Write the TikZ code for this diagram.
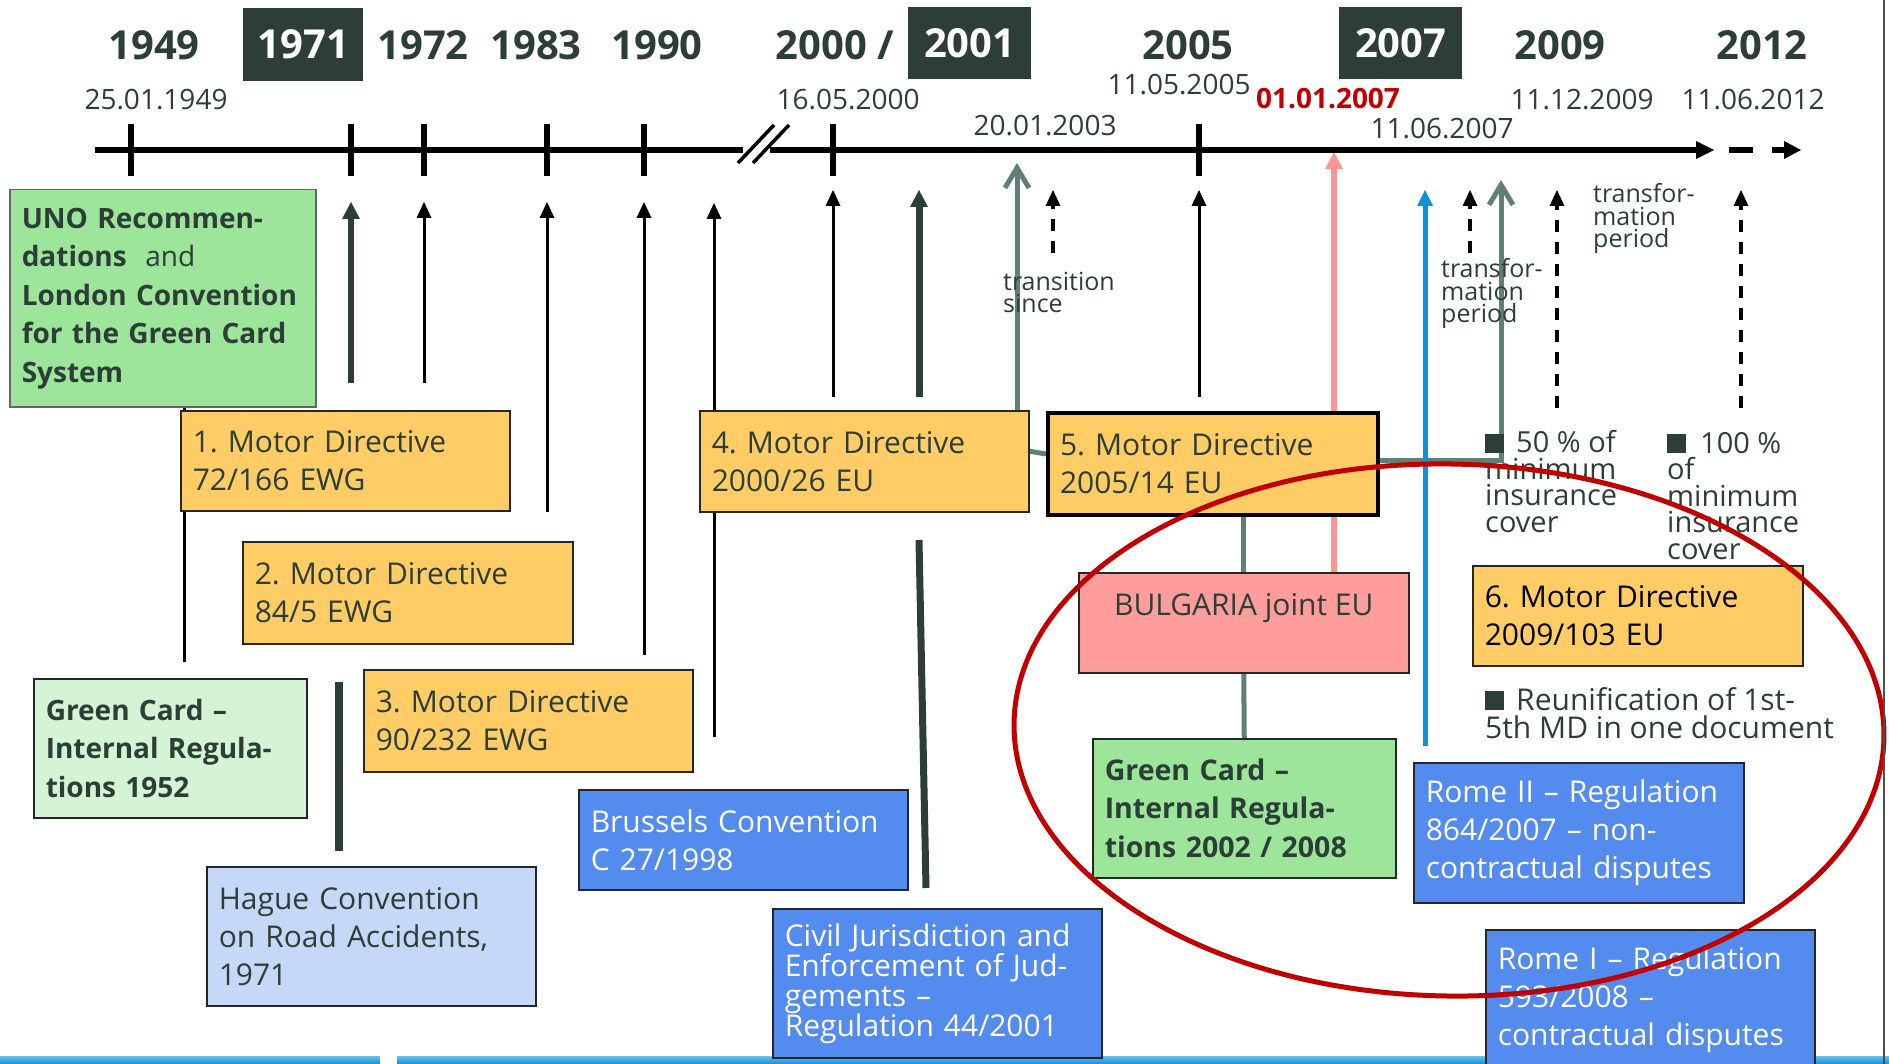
\documentclass[tikz,border=0pt]{standalone}
\usepackage{fontspec}
\setmainfont{Open Sans}
\usetikzlibrary{arrows.meta,backgrounds}

\definecolor{dkgreen}{HTML}{2C3E36}
\definecolor{mdorange}{HTML}{FFCC66}
\definecolor{unogreen}{HTML}{9DE59B}
\definecolor{palegreen}{HTML}{D5F3D5}
\definecolor{paleblue}{HTML}{C6D8F7}
\definecolor{boxblue}{HTML}{548BEE}
\definecolor{bgpink}{HTML}{FF9D9D}
\definecolor{slategray}{HTML}{5F7F78}
\definecolor{arrowpink}{HTML}{FF9494}
\definecolor{arrowblue}{HTML}{0A92DB}
\definecolor{ovalred}{HTML}{C00000}

\tikzstyle{box} = [draw=black!85, line width=1.5pt, anchor=north west, inner xsep=12pt, inner ysep=0pt, align=left, text=dkgreen, font=\fontsize{30}{38}\selectfont]
\tikzstyle{mdbox} = [box, fill=mdorange]
\tikzstyle{greenbox} = [box, fill=unogreen, font=\fontsize{28}{38.5}\selectfont\bfseries]
\tikzstyle{bluebox} = [box, fill=boxblue, text=white]
\tikzstyle{year} = [anchor=base, text=dkgreen, font=\fontsize{40}{40}\selectfont\bfseries]
\tikzstyle{yearbox} = [anchor=north west, fill=dkgreen, text=white, inner sep=0pt, font=\fontsize{40}{40}\selectfont\bfseries]
\tikzstyle{date} = [anchor=base, text=dkgreen, font=\fontsize{28}{28}\selectfont]
\tikzstyle{note} = [anchor=base west, align=left, inner sep=0pt, text=dkgreen, font=\fontsize{25}{22.5}\selectfont]
\tikzstyle{bullet} = [note, font=\fontsize{29}{26.5}\selectfont]
\tikzstyle{timeline} = [line width=6pt]
\tikzstyle{thinarrow} = [line width=3pt, -{Triangle[width=15pt,length=16pt,line width=0pt]}]
\tikzstyle{thickarrow} = [line width=6pt, color=dkgreen, -{Triangle[width=18pt,length=17pt,line width=0pt]}]
\tikzstyle{dasharrow} = [line width=3.5pt, dash pattern=on 12pt off 10pt, -{Triangle[width=15pt,length=16pt,line width=0pt]}]
\tikzstyle{openarrow} = [line width=5pt, color=slategray, -{Straight Barb[width=24pt,length=20pt]}]
\tikzstyle{link} = [line width=5pt, color=slategray]
\tikzstyle{bar} = [line width=7pt, color=dkgreen]

\begin{document}
\begin{tikzpicture}[x=1pt, y=-1pt]
	\useasboundingbox (0,0) rectangle (1889,1064);

	\node[year] (y1949) at (154,60) {1949};
	\node[yearbox, minimum width=120pt, minimum height=73pt] (y1971) at (243,8) {1971};
	\node[year] (y1972) at (423,60) {1972};
	\node[year] (y1983) at (536,60) {1983};
	\node[year] (y1990) at (657,60) {1990};
	\node[year, anchor=base west] (y2000) at (772,60) {2000 /};
	\node[yearbox, minimum width=123pt, minimum height=72pt] (y2001) at (908,7) {2001};
	\node[year] (y2005) at (1188,60) {2005};
	\node[yearbox, minimum width=123pt, minimum height=72pt] (y2007) at (1339,7) {2007};
	\node[year] (y2009) at (1560,60) {2009};
	\node[year] (y2012) at (1762,60) {2012};

	\node[date] (d1949) at (156,110) {25.01.1949};
	\node[date, anchor=base west] (d2000) at (773,110) {16.05.2000};
	\node[date] (d2003) at (1045,136) {20.01.2003};
	\node[date] (d2005) at (1179,95) {11.05.2005};
	\node[date, text=ovalred, font=\fontsize{28}{28}\selectfont\bfseries] (d2007) at (1328,109) {01.01.2007};
	\node[date] (d2007b) at (1442,139) {11.06.2007};
	\node[date] (d2009) at (1582,110) {11.12.2009};
	\node[date] (d2012) at (1753,110) {11.06.2012};

	\draw[timeline] (95,150) -- (743,150);
	\draw[line width=3.5pt] (738,163) -- (774,125);
	\draw[line width=3.5pt] (753,163) -- (789,125);
	\draw[timeline, -{Triangle[width=18pt,length=18pt,line width=0pt]}] (770,150) -- (1714,150);
	\draw[timeline, dash pattern=on 24pt off 19pt, -{Triangle[width=18pt,length=17pt,line width=0pt]}] (1729,150) -- (1801,150);

	\draw[timeline] (131,124) -- (131,176);
	\draw[timeline] (351,124) -- (351,176);
	\draw[timeline] (424,124) -- (424,176);
	\draw[timeline] (547,124) -- (547,176);
	\draw[timeline] (644,124) -- (644,176);
	\draw[timeline] (833,124) -- (833,176);
	\draw[timeline] (1199,124) -- (1199,176);

	\node[greenbox, text width=282pt, minimum height=217pt, draw=black!60] (uno) at (9,189) {UNO~Recommen-\\dations~~{\mdseries and}\\London~Convention\\for~the~Green~Card\\System};
	\node[mdbox, text width=305pt, minimum height=100pt] (md1) at (180,410) {1.~Motor~Directive\\72/166~EWG};
	\node[mdbox, text width=306pt, minimum height=102pt] (md2) at (242,541) {2.~Motor~Directive\\84/5~EWG};
	\node[mdbox, text width=305pt, minimum height=102pt] (md3) at (363,669) {3.~Motor~Directive\\90/232~EWG};
	\node[greenbox, fill=palegreen, text width=249pt, minimum height=139pt] (gc52) at (33,678) {Green~Card~–\\Internal~Regula-\\tions~1952};
	\node[box, fill=paleblue, text width=305pt, minimum height=139pt] (hague) at (206,866) {Hague~Convention\\on~Road~Accidents,\\1971};
	\node[bluebox, text width=305pt, minimum height=100pt] (brussels) at (578,789) {Brussels~Convention\\C~27/1998};
	\node[mdbox, text width=305pt, minimum height=101pt] (md4) at (699,410) {4.~Motor~Directive\\2000/26~EU};
	\node[bluebox, text width=305pt, minimum height=149pt, font=\fontsize{30}{30}\selectfont] (civil) at (772,908) {Civil~Jurisdiction~and\\Enforcement~of~Jud-\\gements~–\\Regulation~44/2001};
	\node[mdbox, text width=306pt, minimum height=102pt, line width=4pt, draw=black] (md5) at (1046,411) {5.~Motor~Directive\\2005/14~EU};
	\node[box, fill=bgpink, align=center, minimum width=330pt, text height=43pt, text depth=57pt] (bulgaria) at (1078,572) {BULGARIA joint EU};
	\node[greenbox, text width=279pt, minimum height=139pt, font=\fontsize{28.5}{38.5}\selectfont\bfseries] (gc02) at (1092,738) {Green~Card~–\\Internal~Regula-\\tions~2002~/~2008};
	\node[mdbox, text=black, text width=306pt, minimum height=100pt] (md6) at (1472,565) {6.~Motor~Directive\\2009/103~EU};
	\node[bluebox, text width=306pt, minimum height=140pt] (rome2) at (1413,762) {Rome~II~–~Regulation\\864/2007~–~non-\\contractual~disputes};
	\node[bluebox, text width=305pt, minimum height=140pt] (rome1) at (1485,929) {Rome~I~–~Regulation\\593/2008~–\\contractual~disputes};

	\coordinate (h1971) at (351,202);
	\coordinate (b1971) at (351,383);
	\coordinate (h1972) at (424,202);
	\coordinate (b1972) at (424,383);
	\coordinate (h1983) at (547,202);
	\coordinate (b1983) at (547,512);
	\coordinate (h1990) at (644,202);
	\coordinate (b1990) at (644,655);
	\coordinate (h1998) at (714,203);
	\coordinate (b1998) at (714,737);
	\coordinate (h2000) at (833,190);
	\coordinate (b2000) at (833,397);
	\coordinate (h2001) at (919,190);
	\coordinate (b2001) at (919,397);
	\coordinate (h2003) at (1017,163);
	\coordinate (h2003b) at (1053,190);
	\coordinate (b2003b) at (1053,253);
	\coordinate (h2005) at (1199,190);
	\coordinate (b2005) at (1199,397);
	\coordinate (hpink) at (1334,152);
	\coordinate (hblue) at (1425,190);
	\coordinate (bblue) at (1425,746);
	\coordinate (h2007) at (1470,190);
	\coordinate (b2007) at (1470,253);
	\coordinate (h2007b) at (1501,180);
	\coordinate (h2009) at (1557,190);
	\coordinate (b2009) at (1557,408);
	\coordinate (h2012) at (1741,190);
	\coordinate (b2012) at (1741,408);
	\coordinate (e1949) at (184,662);
	\coordinate (bar1a) at (339,682);
	\coordinate (bar1b) at (339,851);
	\coordinate (bar2a) at (919,540);
	\coordinate (bar2b) at (926,888);

	\begin{scope}[on background layer]
	\shade[top color=arrowblue!60, bottom color=arrowblue] (0,1056) rectangle (380,1064);
	\shade[top color=arrowblue!60, bottom color=arrowblue] (397,1056) rectangle (1889,1064);

	\draw[thickarrow] (b1971) -- (h1971);
	\draw[thinarrow] (b1972) -- (h1972);
	\draw[thinarrow] (b1983) -- (h1983);
	\draw[thinarrow] (b1990) -- (h1990);
	\draw[thinarrow] (b1998) -- (h1998);
	\draw[thinarrow] (b2000) -- (h2000);
	\draw[thickarrow, line width=7pt] (b2001) -- (h2001);
	\draw[openarrow] (md4.north -| h2003) -- (h2003);
	\draw[dasharrow] (b2003b) -- (h2003b);
	\draw[thinarrow] (b2005) -- (h2005);
	\draw[line width=6pt, color=arrowpink, -{Triangle[width=18pt,length=17pt,line width=0pt]}] (bulgaria.north -| hpink) -- (hpink);
	\draw[dasharrow] (b2007) -- (h2007);
	\draw[openarrow] ([yshift=4pt]md5.east) -| (h2007b);
	\draw[line width=5pt, color=arrowblue, -{Triangle[width=16pt,length=16pt,line width=0pt]}] (bblue) -- (hblue);
	\draw[dasharrow] (b2009) -- (h2009);
	\draw[dasharrow] (b2012) -- (h2012);

	\draw[line width=3pt] (uno.south -| e1949) -- (e1949);
	\draw[bar, line width=8pt] (bar1a) -- (bar1b);
	\draw[bar] (bar2a) -- (bar2b);

	\draw[link] ([yshift=10pt]md4.east) -- ([yshift=10pt]md5.west);
	\draw[link] (md5.south -| bulgaria.north) -- (bulgaria.north);
	\draw[link] (bulgaria.south) -- (gc02.north);
	\end{scope}

	\node[note] (trans) at (1003,313) {transition\\since};
	\node[note] (tform1) at (1441,323) {transfor-\\mation\\period};
	\node[note] (tform2) at (1593,248) {transfor-\\mation\\period};
	\node[bullet] (ins50) at (1485,532) {\rule{19pt}{19pt}\hspace{12pt}50 \% of\\minimum\\insurance\\cover};
	\node[bullet] (ins100) at (1667,559) {\rule{19pt}{19pt}\hspace{14pt}100 \%\\of\\minimum\\insurance\\cover};
	\node[bullet, font=\fontsize{30}{28}\selectfont] (reunif) at (1485,738) {\rule{19pt}{19pt}\hspace{12pt}Reunification of 1st-\\5th MD in one document};

	\draw[ovalred, line width=5pt, rotate around={-1:(1449,730)}] (1449,730) ellipse [x radius=435pt, y radius=266pt];
	\draw[line width=2pt, color=black!70] (1884,0) -- (1884,1064);
\end{tikzpicture}
\end{document}
